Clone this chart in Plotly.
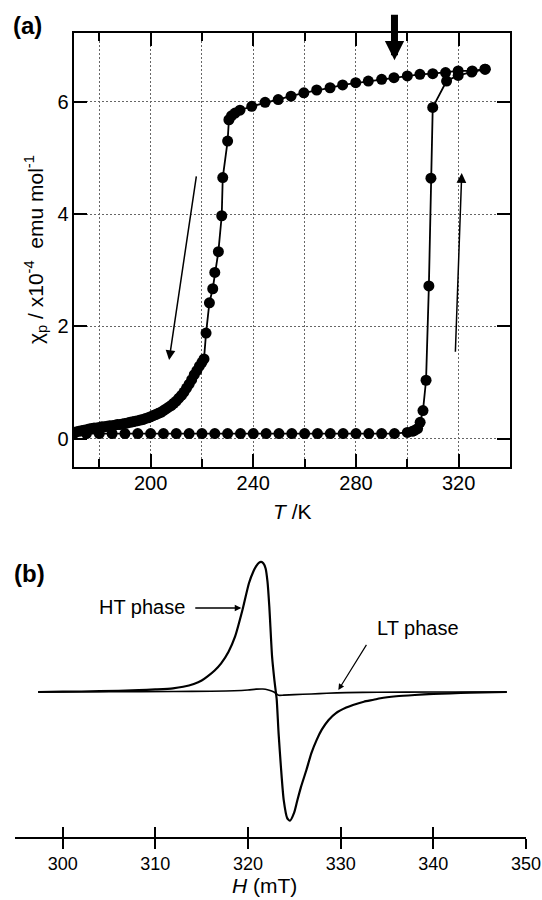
import plotly.graph_objects as go

# ---------------- Panel (a) data ----------------
# Cooling branch (from high T to low T)
cool_T = [330.2, 325.3, 319.8, 314.9, 309.9, 304.9, 300.0, 294.8, 290.0, 284.8,
          279.9, 274.8, 269.9, 264.7, 259.7, 254.7, 249.7, 244.6, 239.4, 234.8,
          232.9, 231.5, 230.5, 230.0, 228.1, 227.7, 226.4, 225.0, 224.2, 222.9,
          221.6, 220.8,
          220.0, 219.0, 218.0, 217.0, 216.0, 215.0, 214.0, 213.0, 212.0, 211.0,
          210.0, 209.0, 208.0, 207.0, 206.0, 205.0, 204.0, 203.0, 202.0, 201.0,
          200.0, 199.0, 198.0, 197.0, 196.0, 195.0, 194.0, 193.0, 192.0, 191.0,
          190.0, 189.0, 188.0, 187.0, 186.0, 185.0, 184.0, 183.0, 182.0, 181.0,
          180.0, 179.0, 178.0, 177.0, 176.0, 175.0, 174.0, 173.0, 172.0, 171.0,
          170.0]
cool_chi = [6.58, 6.55, 6.55, 6.52, 6.50, 6.49, 6.46, 6.43, 6.40, 6.37,
            6.34, 6.30, 6.25, 6.21, 6.16, 6.10, 6.04, 5.99, 5.92, 5.85,
            5.80, 5.75, 5.68, 5.30, 4.65, 3.97, 3.33, 2.96, 2.67, 2.42,
            1.88, 1.42,
            1.36, 1.29, 1.21, 1.14, 1.05, 0.97, 0.90, 0.83, 0.77, 0.72,
            0.67, 0.63, 0.59, 0.56, 0.53, 0.50, 0.47, 0.45, 0.43, 0.41,
            0.39, 0.37, 0.36, 0.34, 0.33, 0.32, 0.31, 0.30, 0.29, 0.28,
            0.27, 0.26, 0.25, 0.25, 0.24, 0.23, 0.23, 0.22, 0.21, 0.21,
            0.20, 0.19, 0.19, 0.18, 0.17, 0.16, 0.15, 0.14, 0.13, 0.12,
            0.10]

# Heating branch (from low T to high T)
heat_T = [170, 175, 180, 185, 190, 195, 200, 205, 210, 215, 220, 225, 230,
          235, 240, 245, 250, 255, 260, 265, 270, 275, 280, 285, 290, 295,
          300, 302.0, 303.0, 304.0, 305.0, 306.1, 307.3, 308.4, 309.2, 309.9,
          315.3, 319.8, 325.1, 330.4]
heat_chi = [0.09, 0.09, 0.09, 0.09, 0.09, 0.09, 0.09, 0.09, 0.09, 0.09,
            0.09, 0.09, 0.09, 0.09, 0.09, 0.09, 0.09, 0.09, 0.09, 0.09,
            0.09, 0.09, 0.09, 0.09, 0.09, 0.09, 0.11, 0.13, 0.15, 0.18,
            0.29, 0.50, 1.04, 2.72, 4.64, 5.90, 6.37, 6.47, 6.53, 6.58]

# ---------------- Panel (b) data ----------------
ht_H = [297.35, 300.0, 304.0, 308.2, 310.0, 311.9, 313.0, 314.15, 315.0, 315.6,
        316.4, 317.1, 317.9, 318.6, 319.4, 320.1, 320.6, 320.9, 321.2, 321.42,
        321.65, 321.9, 322.1, 322.3, 322.6, 322.85, 323.0, 323.1, 323.3, 323.55,
        323.85, 324.23, 324.53, 324.97, 325.3, 325.72, 326.3, 326.84, 327.4,
        327.96, 328.7, 329.46, 330.6, 331.33, 332.5, 333.56, 334.3, 336.0,
        338.0, 340.0, 341.8, 344.0, 347.93]
ht_sig = [0.0, 0.002, 0.006, 0.014, 0.02, 0.028, 0.04, 0.062, 0.088, 0.118,
          0.165, 0.22, 0.31, 0.425, 0.63, 0.836, 0.93, 0.97, 0.995, 1.0,
          0.99, 0.95, 0.85, 0.656, 0.27, 0.09, 0.0, -0.06, -0.318, -0.575,
          -0.83, -0.97, -0.99, -0.93, -0.84, -0.73, -0.6, -0.47, -0.37,
          -0.29, -0.215, -0.164, -0.12, -0.1, -0.075, -0.06, -0.048, -0.033,
          -0.023, -0.015, -0.01, -0.005, 0.0]

lt_H = [297.35, 305.0, 312.0, 316.0, 318.5, 320.0, 320.9, 321.6, 322.2, 322.8,
        323.3, 323.85, 325.0, 326.84, 328.5, 330.6, 334.0, 340.0, 347.93]
lt_sig = [0.0, 0.002, 0.004, 0.006, 0.009, 0.015, 0.022, 0.023, 0.015, 0.0,
          -0.025, -0.024, -0.02, -0.015, -0.01, -0.005, -0.002, 0.0, 0.0]

# tick values
a_xticks = [200, 240, 280, 320]
a_yticks = [0, 2, 4, 6]
b_xticks = [300, 310, 320, 330, 340, 350]

FONT = "Arial, Liberation Sans, Helvetica, sans-serif"
W, H = 542, 900


def px(x):
    return x / W


def py(y):
    return 1 - y / H


fig = go.Figure()

marker = dict(symbol="circle", size=11, color="black")
fig.add_trace(go.Scatter(x=cool_T, y=cool_chi, mode="lines+markers",
                         line=dict(color="black", width=1.8), marker=marker,
                         xaxis="x", yaxis="y", showlegend=False))
fig.add_trace(go.Scatter(x=heat_T, y=heat_chi, mode="lines+markers",
                         line=dict(color="black", width=1.8), marker=marker,
                         xaxis="x", yaxis="y", showlegend=False))

fig.add_trace(go.Scatter(x=lt_H, y=lt_sig, mode="lines",
                         line=dict(color="black", width=1.6, shape="spline", smoothing=0.6),
                         xaxis="x2", yaxis="y2", showlegend=False))
fig.add_trace(go.Scatter(x=ht_H, y=ht_sig, mode="lines",
                         line=dict(color="black", width=2.2, shape="spline", smoothing=0.6),
                         xaxis="x2", yaxis="y2", showlegend=False))

grid = dict(showgrid=True, gridcolor="#666666", gridwidth=1, griddash="2px,2px")

fig.update_layout(
    width=W, height=H,
    margin=dict(l=0, r=0, t=0, b=0),
    paper_bgcolor="white", plot_bgcolor="white",
    font=dict(family=FONT, size=17, color="black"),
    xaxis=dict(domain=[px(73.6), px(510.0)], range=[170, 340], anchor="y",
               tickvals=a_xticks, ticks="inside", ticklen=13, tickwidth=1.5,
               tickcolor="black", showline=True, linecolor="black", linewidth=2,
               mirror="ticks", zeroline=False, automargin=False,
               ticklabelstandoff=-3,
               minor=dict(dtick=20, tick0=180, ticks="inside", ticklen=8,
                          tickwidth=1.5, tickcolor="black", showgrid=True,
                          gridcolor="#666666", gridwidth=1, griddash="2px,2px"),
               tickfont=dict(size=20), **grid),
    yaxis=dict(domain=[py(466.7), py(33.3)], range=[-0.5, 7.22], anchor="x",
               tickvals=a_yticks, ticks="inside", ticklen=13, tickwidth=1.5,
               tickcolor="black", showline=True, linecolor="black", linewidth=2,
               mirror="ticks", zeroline=False, automargin=False,
               ticklabelstandoff=-1,
               tickfont=dict(size=20), **grid),
    xaxis2=dict(domain=[px(14.5), px(526.0)], range=[294.8, 350], anchor="y2",
                tickvals=b_xticks, ticks="outside", ticklen=10, tickwidth=2,
                tickcolor="black", showline=True, linecolor="black", linewidth=2,
                showgrid=False, zeroline=False, automargin=False,
                tickfont=dict(size=18)),
    xaxis3=dict(domain=[px(14.5), px(526.0)], range=[294.8, 350], anchor="y2",
                overlaying="x2", tickvals=b_xticks, ticks="inside", ticklen=10,
                tickwidth=2, tickcolor="black", showticklabels=False,
                showline=False, showgrid=False, zeroline=False, automargin=False),
    yaxis2=dict(domain=[py(836.7), py(550)], range=[-1.113, 1.092],
                visible=False, anchor="x2"),
)

# dummy trace so xaxis3 is drawn
fig.add_trace(go.Scatter(x=[None], y=[None], xaxis="x3", yaxis="y2",
                         showlegend=False, hoverinfo="skip"))


def label(text, x, y, size=17, **kw):
    return dict(text=text, x=px(x), y=py(y), xref="paper", yref="paper",
                xanchor="center", yanchor="middle", showarrow=False,
                font=dict(size=size), **kw)


ann = []
ann.append(label("<b>(a)</b>", 27, 26, 24))
ann.append(label("<b>(b)</b>", 29, 573, 24))
ann.append(label("<i>T</i> /K", 292, 511, 21))
ann.append(label("<i>H</i> (mT)", 264, 885, 21))
ann.append(label("χ<sub>p</sub> / x10<sup>-4</sup>  emu mol<sup>-1</sup>", 35, 250, 21,
                 textangle=-90))
ann.append(label("HT phase", 142, 607, 20))
ann.append(label("LT phase", 418, 628, 20))

# arrows panel (b)
ann.append(dict(text="", x=319.27, y=0.646, xref="x2", yref="y2", ax=-47.5, ay=0,
                showarrow=True, arrowhead=2, arrowsize=1.0, arrowwidth=1.3,
                arrowcolor="black"))
ann.append(dict(text="", x=329.75, y=0.015, xref="x2", yref="y2", ax=29, ay=-46.7,
                showarrow=True, arrowhead=2, arrowsize=1.0, arrowwidth=1.2,
                arrowcolor="black"))
# arrows panel (a)
ann.append(dict(text="", x=295, y=6.74, xref="x", yref="y", ax=0, ay=-47,
                showarrow=True, arrowhead=2, arrowsize=0.55, arrowwidth=7,
                arrowcolor="black"))
ann.append(dict(text="", x=207.2, y=1.40, xref="x", yref="y", axref="x", ayref="y",
                ax=217.9, ay=4.70, showarrow=True, arrowhead=2, arrowsize=1.3,
                arrowwidth=1.5, arrowcolor="black"))
ann.append(dict(text="", x=321.2, y=4.73, xref="x", yref="y", axref="x", ayref="y",
                ax=318.7, ay=1.52, showarrow=True, arrowhead=2, arrowsize=1.3,
                arrowwidth=1.5, arrowcolor="black"))
fig.update_layout(annotations=ann)

fig.write_html("out.html")
